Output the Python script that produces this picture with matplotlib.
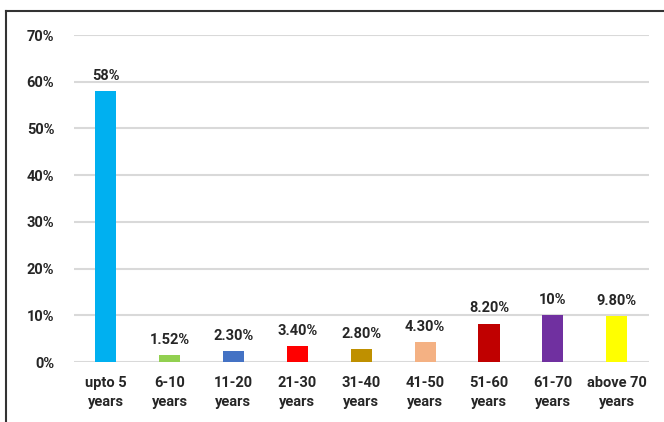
import matplotlib.pyplot as plt
from matplotlib.lines import Line2D

categories = ['upto 5\nyears', '6-10\nyears', '11-20\nyears', '21-30\nyears', '31-40\nyears',
              '41-50\nyears', '51-60\nyears', '61-70\nyears', 'above 70\nyears']
values = [58, 1.52, 2.30, 3.40, 2.80, 4.30, 8.20, 10, 9.80]
value_labels = ['58%', '1.52%', '2.30%', '3.40%', '2.80%', '4.30%', '8.20%', '10%', '9.80%']
colors = ['#00B0F0', '#92D050', '#4472C4', '#FF0000', '#BF9000',
          '#F4B183', '#C00000', '#7030A0', '#FFFF00']
yticks = [0, 10, 20, 30, 40, 50, 60, 70]

plt.rcParams['font.family'] = ['Roboto', 'DejaVu Sans']

fig = plt.figure(figsize=(6.64, 4.22), dpi=100)
ax = fig.add_axes([0.111, 0.142, 0.866, 0.775])

x = range(len(categories))
ax.bar(x, values, width=0.33, color=colors, zorder=3)
for i, v in enumerate(values):
    ax.annotate(value_labels[i], (i, v), xytext=(0, 6), textcoords='offset points',
                ha='center', va='bottom', fontsize=10.5, fontweight='bold', color='#262626')

ax.set_ylim(0, 70)
ax.set_xlim(-0.5, len(categories) - 0.5)
ax.set_yticks(yticks)
ax.set_yticklabels([f'{t}%' for t in yticks], fontsize=10.5, fontweight='bold', color='#262626')
ax.set_xticks(list(x))
ax.set_xticklabels(categories, fontsize=10.5, fontweight='bold', color='#262626', linespacing=1.45)
ax.tick_params(length=0, pad=10)
ax.tick_params(axis='y', pad=14)
ax.grid(axis='y', color='#D9D9D9', linewidth=1.5, zorder=0)
for s in ax.spines.values():
    s.set_visible(False)

# outer frame (cropped box)
fig.add_artist(Line2D([6 / 664, 6 / 664], [0, 1 - 11 / 422], color='#333333', lw=1.5))
fig.add_artist(Line2D([6 / 664, 1], [1 - 11 / 422, 1 - 11 / 422], color='#333333', lw=1.5))

fig.savefig('out.png', dpi=100)
